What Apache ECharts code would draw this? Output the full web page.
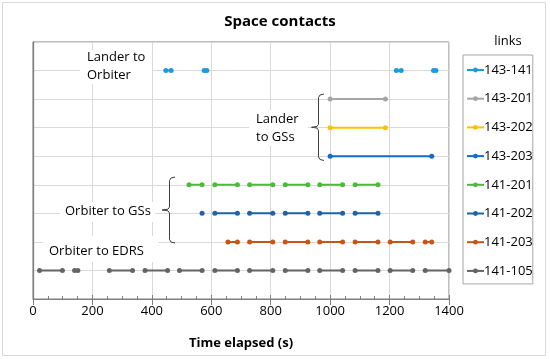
<!DOCTYPE html>
<html>
<head>
<meta charset="utf-8">
<script src="https://cdn.jsdelivr.net/npm/echarts@6/dist/echarts.min.js"></script>
<style>
html,body{margin:0;padding:0;background:#fff;}
#c{width:550px;height:359px;}
</style>
</head>
<body>
<div id="c"></div>
<script>
// ---- data ----
const categories = ['143-141','143-201','143-202','143-203','141-201','141-202','141-203','141-105'];
const xTicks = [0, 200, 400, 600, 800, 1000, 1200, 1400];
const c143_141 = [[447,465],[576,585],[1223,1239],[1348,1356]];
const c143_201 = [[1000,1186]];
const c143_202 = [[1000,1186]];
const c143_203 = [[1000,1342]];
const c141_201 = [[525,569],[612,688],[729,807],[849,925],[965,1042],[1084,1161]];
const c141_202 = [[569],[612,688],[729,807],[849,925],[965,1042],[1084,1161]];
const c141_203 = [[656,688],[729,807],[849,925],[965,1042],[1084,1161],[1202,1278],[1320,1342]];
const c141_105 = [[22,99],[140,151],[257,335],[377,453],[493,569],[612,688],[729,807],[849,925],[965,1042],[1084,1161],[1202,1278],[1320,1400]];
const contacts = [c143_141, c143_201, c143_202, c143_203, c141_201, c141_202, c141_203, c141_105];
const colors = ['#1c9ade','#a5a5a5','#ffc000','#136bcc','#4cbb3a','#1d63a6','#c85518','#646464'];

const FONT = '"Open Sans", sans-serif';

function buildData(intervals, row) {
  const out = [];
  intervals.forEach(function (iv, k) {
    iv.forEach(function (x) { out.push([x, row]); });
    if (k < intervals.length - 1) out.push(['-', '-']);
  });
  return out;
}

const series = categories.map(function (name, i) {
  return {
    name: name,
    type: 'line',
    xAxisIndex: 0,
    data: buildData(contacts[i], i + 1),
    connectNulls: false,
    symbol: 'circle',
    symbolSize: 5,
    showSymbol: true,
    lineStyle: { width: 2, color: colors[i] },
    itemStyle: { color: colors[i] },
    emphasis: { disabled: true },
    animation: false,
    z: 5
  };
});

function bracket(x, top, bottom, tipX) {
  const mid = (top + bottom) / 2;
  return [
    [x + 5.5, top], [x + 1.5, top + 1], [x, top + 3.5],
    [x, mid - 3], [x - 1.5, mid - 0.8], [tipX, mid],
    [x - 1.5, mid + 0.8], [x, mid + 3],
    [x, bottom - 3.5], [x + 1.5, bottom - 1], [x + 5.5, bottom]
  ];
}

const GRID_TOP = 42, GRID_BOTTOM = 60, H = 359;
const gridHeight = H - GRID_TOP - GRID_BOTTOM;

const chart = echarts.init(document.getElementById('c'), null, { renderer: 'canvas' });
chart.setOption({
  backgroundColor: '#ffffff',
  animation: false,
  color: colors,
  title: [
    { text: 'Space contacts', left: 275, top: 9, textAlign: 'center',
      textStyle: { fontFamily: FONT, fontSize: 15, fontWeight: 'bold', color: '#000' } },
    { text: 'links', left: 503, top: 30, textAlign: 'center',
      textStyle: { fontFamily: FONT, fontSize: 13, fontWeight: 'normal', color: '#000' } }
  ],
  grid: {
    left: 33, right: 101, top: GRID_TOP, bottom: GRID_BOTTOM,
    show: true, borderColor: '#7f7f7f', borderWidth: 1, backgroundColor: 'transparent',
    containLabel: false
  },
  legend: {
    orient: 'vertical',
    left: 463, top: 55,
    padding: [8, 0, 6, 3],
    itemGap: 14.7,
    itemWidth: 17,
    itemHeight: 6,
    borderColor: '#a6a6a6', borderWidth: 1,
    textStyle: { fontFamily: FONT, fontSize: 13, color: '#000', lineHeight: 14, padding: [0, 0, 0, -5] },
    data: categories
  },
  xAxis: [
    {
      type: 'value', min: 0, max: 1400, interval: 200, position: 'bottom',
      name: 'Time elapsed (s)', nameLocation: 'middle', nameGap: 38,
      nameTextStyle: { fontFamily: FONT, fontSize: 13, fontWeight: 'bold', color: '#000' },
      axisLine: { show: true, onZero: false, lineStyle: { color: '#7f7f7f', width: 1 } },
      axisTick: { show: true, inside: false, length: 6, lineStyle: { color: '#7f7f7f' } },
      axisLabel: { show: true, margin: 6, fontFamily: FONT, fontSize: 13, color: '#000',
        formatter: function (v) { return xTicks.indexOf(v) >= 0 ? String(v) : ''; } },
      splitLine: { show: true, lineStyle: { color: '#d9d9d9', width: 1 } },
      minorTick: { show: false }
    },
    {
      // placed at top by ECharts, shifted down onto the bottom line; outward ticks then point into the plot
      type: 'value', min: 0, max: 1400, interval: 200, position: 'top', gridIndex: 0,
      offset: -gridHeight,
      axisLine: { show: false },
      axisTick: { show: true, inside: false, length: 4, lineStyle: { color: '#7f7f7f' } },
      minorTick: { show: true, splitNumber: 4, length: 3, lineStyle: { color: '#7f7f7f' } },
      axisLabel: { show: false },
      splitLine: { show: false }
    }
  ],
  yAxis: {
    type: 'value', min: 0, max: 9, interval: 1, inverse: true,
    axisLine: { show: true, lineStyle: { color: '#7f7f7f', width: 1.3 } },
    axisTick: { show: false },
    axisLabel: { show: false },
    splitLine: { show: true, lineStyle: { color: '#d9d9d9', width: 1 } }
  },
  series: series,
  graphic: [
    { type: 'rect', shape: { x: 2.5, y: 2.5, width: 543, height: 353 },
      style: { fill: 'none', stroke: '#d9d9d9', lineWidth: 1 }, z: 1, silent: true },
    // white boxes behind annotation text
    { type: 'rect', shape: { x: 80, y: 50, width: 72, height: 34 }, style: { fill: '#fff' }, z: 10, silent: true },
    { type: 'rect', shape: { x: 249, y: 110, width: 59, height: 36 }, style: { fill: '#fff' }, z: 10, silent: true },
    { type: 'rect', shape: { x: 60, y: 202, width: 95, height: 20 }, style: { fill: '#fff' }, z: 10, silent: true },
    { type: 'rect', shape: { x: 43, y: 236, width: 115, height: 26 }, style: { fill: '#fff' }, z: 10, silent: true },
    { type: 'text', x: 87, y: 48, z: 11, silent: true,
      style: { text: 'Lander to\nOrbiter', font: '13px ' + FONT, fill: '#000', lineHeight: 18, textAlign: 'left', textVerticalAlign: 'top' } },
    { type: 'text', x: 256, y: 111, z: 11, silent: true,
      style: { text: 'Lander\nto GSs', font: '13px ' + FONT, fill: '#000', lineHeight: 17.5, textAlign: 'left', textVerticalAlign: 'top' } },
    { type: 'text', x: 65, y: 211, z: 11, silent: true,
      style: { text: 'Orbiter to GSs', font: '13px ' + FONT, fill: '#000', textAlign: 'left', textVerticalAlign: 'middle' } },
    { type: 'text', x: 49, y: 251, z: 11, silent: true,
      style: { text: 'Orbiter to EDRS', font: '13px ' + FONT, fill: '#000', textAlign: 'left', textVerticalAlign: 'middle' } },
    { type: 'polyline', shape: { points: bracket(318.5, 94, 160.5, 311.5) }, z: 11, silent: true,
      style: { fill: 'none', stroke: '#404040', lineWidth: 1 } },
    { type: 'polyline', shape: { points: bracket(169.5, 177, 243, 162) }, z: 11, silent: true,
      style: { fill: 'none', stroke: '#404040', lineWidth: 1 } }
  ]
});
</script>
</body>
</html>
